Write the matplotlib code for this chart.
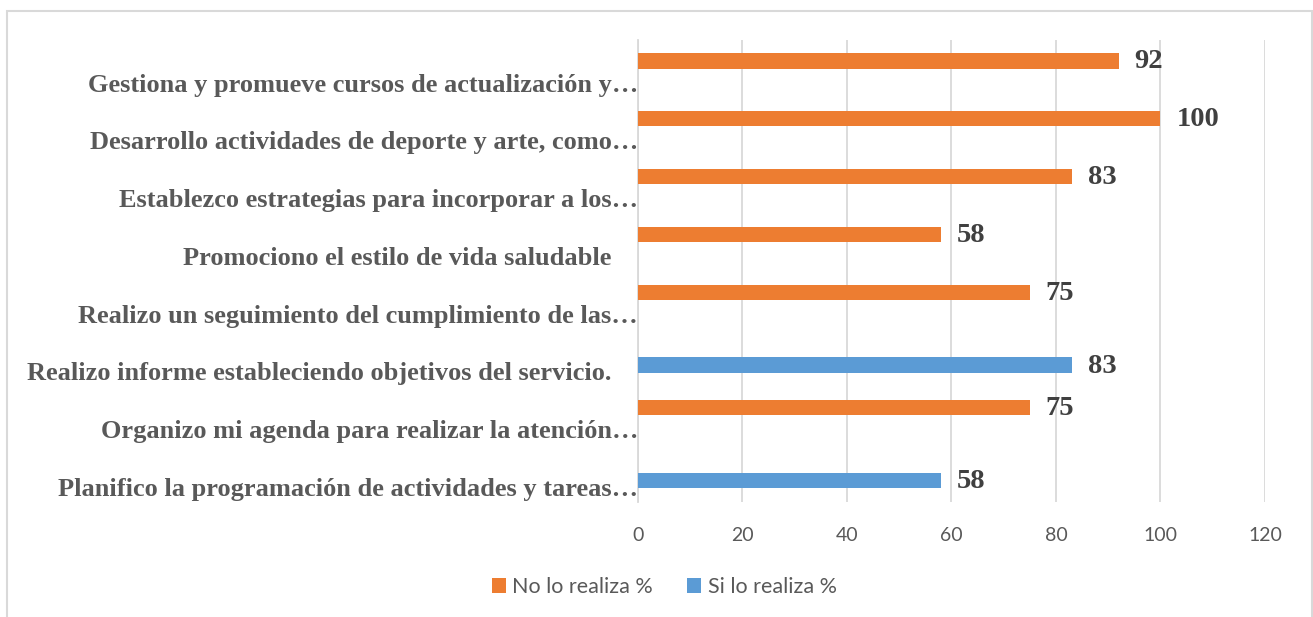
import numpy as np
import matplotlib
matplotlib.use('Agg')
import matplotlib.pyplot as plt
from matplotlib.transforms import ScaledTranslation
from matplotlib.patches import Rectangle

# categories listed bottom -> top
categories = [
    'Planifico la programación de actividades y tareas…',
    'Organizo mi agenda para realizar la atención…',
    'Realizo informe estableciendo objetivos del servicio.    ',
    'Realizo un seguimiento del cumplimiento de las…',
    'Promociono el estilo de vida saludable    ',
    'Establezco estrategias para incorporar a los…',
    'Desarrollo actividades de deporte y arte, como…',
    'Gestiona y promueve cursos de actualización y…',
]
no_realiza = [None, 75, None, 75, 58, 83, 100, 92]
si_realiza = [58, None, 83, None, None, None, None, None]
series_names = ['No lo realiza %', 'Si lo realiza %']
xticks = [0, 20, 40, 60, 80, 100, 120]

ORANGE = '#ED7D31'
BLUE = '#5B9BD5'
GRID = '#d9d9d9'

fig = plt.figure(figsize=(13.13, 6.17), dpi=100)
ax = fig.add_axes([0.4859, 0.1864, 0.9634 - 0.4859, 0.9358 - 0.1864])

ypos = np.arange(len(categories))
bar_h = 0.26

for vals, color, off, name in ((no_realiza, ORANGE, bar_h / 2, series_names[0]),
                               (si_realiza, BLUE, -bar_h / 2, series_names[1])):
    idx = [i for i, v in enumerate(vals) if v is not None]
    v = [vals[i] for i in idx]
    bars = ax.barh(ypos[idx] + off, v, height=bar_h, color=color,
                   label=name, zorder=3)
    for b, val in zip(bars, v):
        ax.annotate('%d' % val,
                    (b.get_width(), b.get_y() + b.get_height() / 2),
                    xytext=(16, -1), textcoords='offset pixels',
                    ha='left', va='center', fontsize=20.5,
                    fontweight='bold', family='Liberation Serif',
                    color='#404040')

ax.set_xlim(0, 120)
ax.set_ylim(-0.5, len(categories) - 0.5)
ax.set_xticks(xticks)
ax.set_yticks(ypos)
ax.set_yticklabels(categories, fontsize=19, fontweight='bold',
                   family='Liberation Serif', color='#595959')
ax.tick_params(axis='y', length=0, pad=0)
ax.tick_params(axis='x', length=0, pad=18, labelsize=14, labelcolor='#595959')
for lab in ax.get_xticklabels():
    lab.set_family('Lato')

# labels sit a little below the category centre
shift = ScaledTranslation(0, -14 / 100, fig.dpi_scale_trans)
for lab in ax.get_yticklabels():
    lab.set_transform(lab.get_transform() + shift)

ax.grid(axis='x', color=GRID, linewidth=1.3, zorder=0)
for s in ('top', 'right', 'bottom'):
    ax.spines[s].set_visible(False)
ax.spines['left'].set_color(GRID)
ax.spines['left'].set_linewidth(1.3)

handles, labels = ax.get_legend_handles_labels()
leg = fig.legend(handles, labels, loc='center', bbox_to_anchor=(0.506, 0.0486),
                 ncol=2, frameon=False, prop={'family': 'Lato', 'size': 15.5},
                 handlelength=0.65, handleheight=0.65, handletextpad=0.3,
                 columnspacing=1.6)
for t in leg.get_texts():
    t.set_color('#595959')

# chart area border
fig.patches.append(Rectangle((7 / 1313, -0.05), (1312 - 7) / 1313, 1.05 - 10.5 / 617,
                             transform=fig.transFigure, fill=False,
                             edgecolor=GRID, linewidth=1.5))

fig.savefig('out.png', dpi=100)
